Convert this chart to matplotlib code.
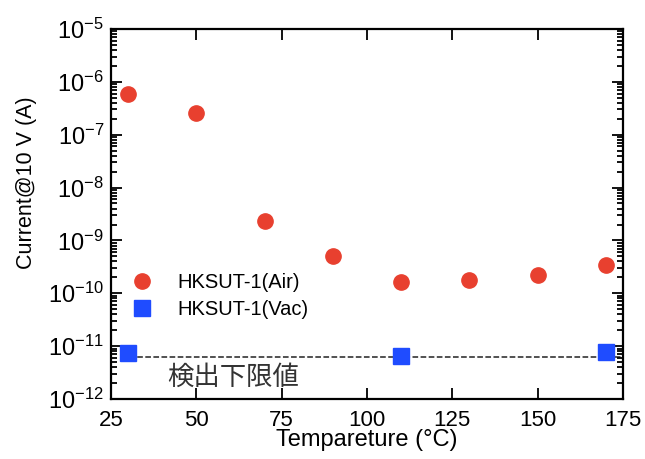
import matplotlib
matplotlib.use("Agg")
import matplotlib.pyplot as plt
import matplotlib.ticker as mticker

plt.rcParams['font.family'] = ['Liberation Sans', 'DejaVu Sans']
plt.rcParams['mathtext.fontset'] = 'custom'
plt.rcParams['mathtext.rm'] = 'Liberation Sans'
plt.rcParams['mathtext.it'] = 'Liberation Sans'

# データ
temp_air = [30, 50, 70, 90, 110, 130, 150, 170]
current_air = [5.9e-7, 2.6e-7, 2.3e-9, 5.1e-10, 1.65e-10, 1.75e-10, 2.25e-10, 3.4e-10]
temp_vac = [30, 110, 170]
current_vac = [7.4e-12, 6.4e-12, 7.6e-12]
detect_limit = 6.2e-12
xticks = [25, 50, 75, 100, 125, 150, 175]

fig = plt.figure(figsize=(6.45, 4.59), dpi=100)
ax = fig.add_axes([111/645, 1-399/459, 512/645, 370/459])

ax.plot(temp_air, current_air, 'o', color='#e8402f', markersize=11, label='HKSUT-1(Air)')
ax.plot(temp_vac, current_vac, 's', color='#1f4cff', markersize=11, label='HKSUT-1(Vac)')
ax.plot([28, 175], [detect_limit, detect_limit], '--', color='#222222', lw=1.1, zorder=1)
ax.text(41.5, 2.6e-12, '検出下限値', family=['Noto Sans CJK JP', 'DejaVu Sans'],
        fontsize=19, color='#333333', va='center')

ax.set_yscale('log')
ax.set_xlim(25, 175)
ax.set_ylim(1e-12, 1e-5)
ax.set_xticks(xticks)
ax.yaxis.set_major_locator(mticker.LogLocator(base=10, numticks=10))
ax.yaxis.set_minor_locator(mticker.LogLocator(base=10, subs=range(2, 10), numticks=20))
ax.yaxis.set_minor_formatter(mticker.NullFormatter())

ax.tick_params(which='both', direction='in', top=True, right=True, width=1.3)
ax.tick_params(which='major', length=8)
ax.tick_params(which='minor', length=4)
ax.tick_params(axis='x', labelsize=16, pad=8)
ax.tick_params(axis='y', labelsize=17, pad=5)
for s in ax.spines.values():
    s.set_linewidth(1.6)

ax.set_xlabel('Tempareture (°C)', fontsize=17)
ax.set_ylabel('Current@10 V (A)', fontsize=15.5)
ax.xaxis.set_label_coords(0.5, -0.082)
ax.yaxis.set_label_coords(-0.145, 0.584)

ax.legend(loc='lower left', bbox_to_anchor=(-0.015, 0.166), frameon=False, fontsize=14.5,
          handletextpad=0.8, labelspacing=0.4)

fig.savefig('out.png', dpi=100)
